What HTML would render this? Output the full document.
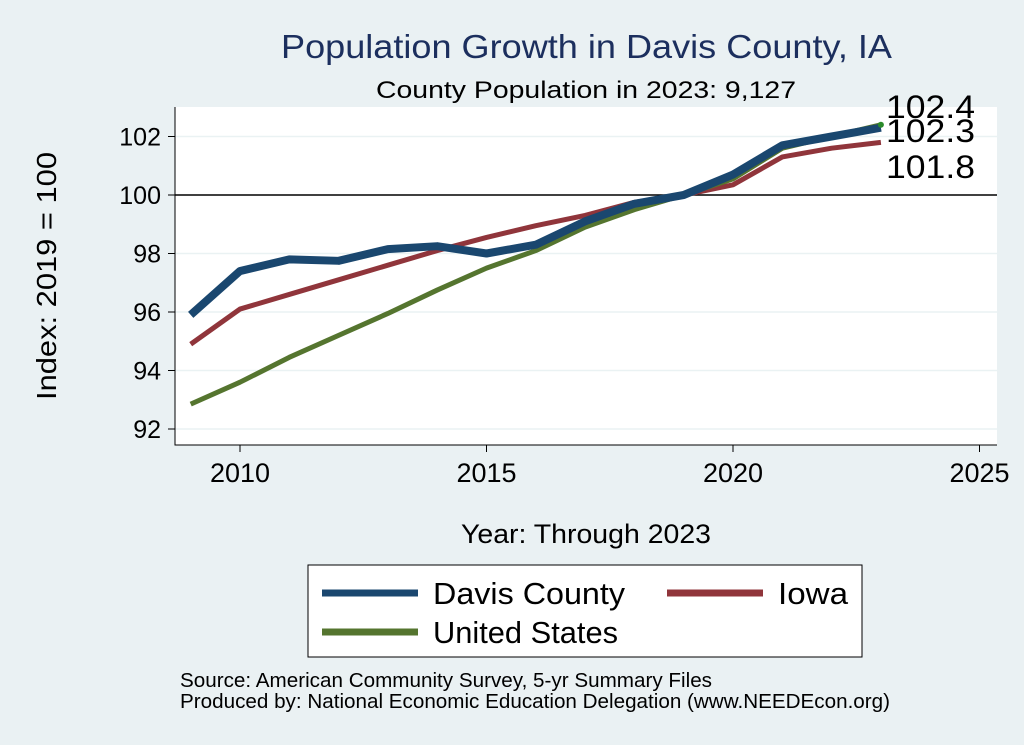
<!DOCTYPE html>
<html><head><meta charset="utf-8"><style>
body{margin:0;background:#eaf1f3;}
svg{display:block;font-family:"Liberation Sans",Arial,sans-serif;}
</style></head><body>
<svg width="1024" height="745" viewBox="0 0 1024 745">
<rect x="0" y="0" width="1024" height="745" fill="#eaf1f3"/>
<text x="281" y="58" font-size="33" fill="#1c2f5e" textLength="611" lengthAdjust="spacingAndGlyphs">Population Growth in Davis County, IA</text>
<text x="376" y="98" font-size="24" fill="#000" textLength="420" lengthAdjust="spacingAndGlyphs">County Population in 2023: 9,127</text>
<rect x="175" y="107" width="822" height="338" fill="#fff"/>
<g id="grid"></g>
<g id="axes"></g>
<g id="series"></g>
<g id="labels"></g>
<text x="0" y="0" font-size="28" textLength="248" lengthAdjust="spacingAndGlyphs" transform="translate(56 400) rotate(-90)">Index: 2019 = 100</text>
<text x="461" y="543" font-size="27" textLength="250" lengthAdjust="spacingAndGlyphs">Year: Through 2023</text>
<g>
<rect x="308" y="565" width="554" height="92" fill="#fff" stroke="#000" stroke-width="1"/>
<line x1="322" y1="593" x2="418" y2="593" stroke="#1a476f" stroke-width="7"/>
<text x="433" y="604" font-size="31" textLength="192" lengthAdjust="spacingAndGlyphs">Davis  County</text>
<line x1="667" y1="593" x2="763" y2="593" stroke="#90353b" stroke-width="7"/>
<text x="778" y="604" font-size="31" textLength="70" lengthAdjust="spacingAndGlyphs">Iowa</text>
<line x1="322" y1="632" x2="418" y2="632" stroke="#55752f" stroke-width="7"/>
<text x="433" y="643" font-size="31" textLength="185" lengthAdjust="spacingAndGlyphs">United States</text>
</g>
<text x="180" y="687" font-size="20" textLength="532" lengthAdjust="spacingAndGlyphs">Source: American Community Survey, 5-yr Summary Files</text>
<text x="180" y="708" font-size="20" textLength="710" lengthAdjust="spacingAndGlyphs">Produced by: National Economic Education Delegation (www.NEEDEcon.org)</text>
</svg>
<script>
const years=[2009,2010,2011,2012,2013,2014,2015,2016,2017,2018,2019,2020,2021,2022,2023];
const davis=[95.9,97.4,97.8,97.75,98.15,98.25,98.0,98.3,99.1,99.7,100,100.7,101.7,102.0,102.3];
const iowa=[94.9,96.1,96.6,97.1,97.6,98.1,98.55,98.95,99.3,99.75,100,100.35,101.3,101.6,101.8];
const us=[92.85,93.6,94.45,95.2,95.95,96.75,97.5,98.1,98.9,99.5,100,100.55,101.6,102.0,102.4];
const yTicks=[92,94,96,98,100,102];
const xTicks=[2010,2015,2020,2025];
const endLabels=["102.4","102.3","101.8"];
const NS="http://www.w3.org/2000/svg";
const X=v=>240+(v-2010)*49.3;
const Y=v=>195-(v-100)*29.25;
function mk(tag,attrs,parent){const e=document.createElementNS(NS,tag);for(const k in attrs)e.setAttribute(k,attrs[k]);document.getElementById(parent).appendChild(e);return e;}
yTicks.forEach(t=>{
 const g=mk('line',{x1:175,x2:997,y1:Y(t),y2:Y(t),stroke:t===100?'#000':'#eaf2f3','stroke-width':1.5},'grid');
 
 
 const tk=mk('line',{x1:168,x2:175,y1:Y(t),y2:Y(t),stroke:'#000'},'axes');
 
 
 const tx=mk('text',{x:161,y:Y(t)+9,'font-size':25,'text-anchor':'end'},'axes');tx.textContent=t;
 
 
});
xTicks.forEach(t=>{
 const tk=mk('line',{x1:X(t),x2:X(t),y1:445,y2:452,stroke:'#000'},'axes');
 
 
 const tx=mk('text',{x:X(t),y:482,'font-size':27,'text-anchor':'middle'},'axes');tx.textContent=t;
 
 
});
const ax=mk('path',{d:'M175 107V445H997',fill:'none',stroke:'#000','stroke-width':1},'axes');


[[iowa,'#90353b','iowa-line'],[us,'#55752f','us-line'],[davis,'#1a476f','davis-line']].forEach(([d,c,n])=>{
 const p=mk('polyline',{points:years.map((y,i)=>X(y)+','+Y(d[i])).join(' '),fill:'none',stroke:c,'stroke-width':n==='davis-line'?8:5,'stroke-linejoin':'round'},'series');
 
 
});
const ld=mk('circle',{cx:X(2023),cy:Y(us[us.length-1]),r:3,fill:'#2a8a2a'},'series');


[[886,118],[886,142],[886,178]].forEach((p,i)=>{
 const t=mk('text',{x:p[0],y:p[1],'font-size':32,textLength:89,lengthAdjust:'spacingAndGlyphs'},'labels');t.textContent=endLabels[i];
 
 
});
</script>
</body></html>
